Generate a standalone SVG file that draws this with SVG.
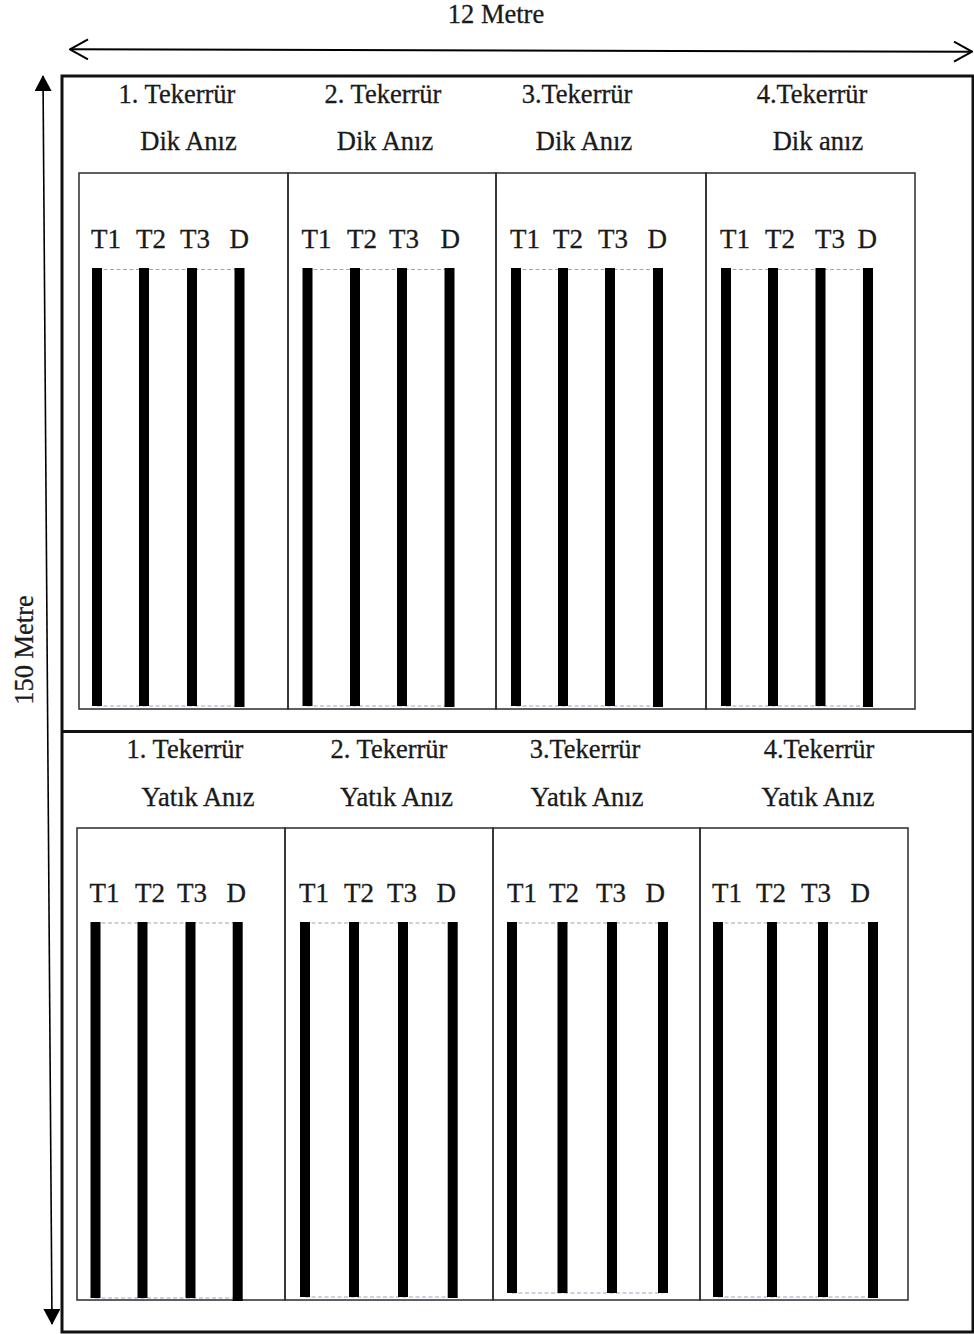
<svg xmlns="http://www.w3.org/2000/svg" width="974" height="1334" viewBox="0 0 974 1334">
<style>
.t{font-family:"Liberation Serif","Times New Roman",serif;font-size:26.5px;fill:#1a1a1a;stroke:#1a1a1a;stroke-width:0.3}
.h{text-anchor:middle}
.l{font-size:27px}
.cell{fill:none;stroke:#2b2b2b;stroke-width:1.5}
.frame{fill:none;stroke:#111;stroke-width:3}
.bar{fill:#000}
.dash{stroke:#9aa6bd;stroke-width:1.2;stroke-dasharray:4 2.5;fill:none}
.dim{stroke:#000;stroke-width:2;fill:none}
</style>
<defs>
<marker id="open" viewBox="0 0 20 22" refX="19" refY="11" markerWidth="20" markerHeight="22" markerUnits="userSpaceOnUse" orient="auto-start-reverse">
<path d="M1,1 L19,11 L1,21" fill="none" stroke="#000" stroke-width="2"/>
</marker>
<marker id="fill" viewBox="0 0 16 17" refX="15" refY="8.5" markerWidth="16" markerHeight="17" markerUnits="userSpaceOnUse" orient="auto-start-reverse">
<path d="M0,0 L16,8.5 L0,17 Z" fill="#000"/>
</marker>
</defs>
<rect width="974" height="1334" fill="#fff"/>

<g id="connectors">
<line class="dim" x1="70" y1="49.3" x2="972" y2="51.7" marker-start="url(#open)" marker-end="url(#open)"/>
<line class="dim" style="stroke-width:1.6" x1="43" y1="76" x2="52" y2="1324" marker-start="url(#fill)" marker-end="url(#fill)"/>
</g>

<text class="t h" x="496" y="23">12 Metre</text>
<text class="t h" transform="translate(33,650) rotate(-90)" x="0" y="0">150 Metre</text>

<g id="field">
<rect class="frame" x="62" y="76" width="911" height="1256"/>
<line class="frame" x1="62" y1="731.5" x2="974" y2="731.5"/>
</g>

<!-- Top row: Dik Anız -->
<g id="top-rep1">
<text class="t h" x="177" y="103">1. Tekerrür</text>
<text class="t h" x="188.5" y="150">Dik Anız</text>
<rect class="cell" x="79" y="173" width="209" height="536"/>
<text class="t l" x="91" y="248">T1</text><text class="t l" x="136" y="248">T2</text><text class="t l" x="180" y="248">T3</text><text class="t l" x="229.5" y="248">D</text>
<line class="dash" x1="97" y1="269.5" x2="239" y2="269.5"/><line class="dash" x1="97" y1="706" x2="239" y2="706"/>
<rect class="bar" x="92" y="268" width="10" height="438"/><rect class="bar" x="139" y="268" width="10" height="438"/><rect class="bar" x="187" y="268" width="10" height="438"/><rect class="bar" x="234.5" y="268" width="10" height="439"/>
</g>
<g id="top-rep2">
<text class="t h" x="383" y="103">2. Tekerrür</text>
<text class="t h" x="385" y="150">Dik Anız</text>
<rect class="cell" x="288" y="173" width="208" height="536"/>
<text class="t l" x="301.5" y="248">T1</text><text class="t l" x="347" y="248">T2</text><text class="t l" x="389" y="248">T3</text><text class="t l" x="440.5" y="248">D</text>
<line class="dash" x1="307" y1="269.5" x2="449" y2="269.5"/><line class="dash" x1="307" y1="706" x2="449" y2="706"/>
<rect class="bar" x="302.5" y="268" width="10" height="438"/><rect class="bar" x="350" y="268" width="10" height="438"/><rect class="bar" x="397" y="268" width="10" height="438"/><rect class="bar" x="444.5" y="268" width="10" height="439"/>
</g>
<g id="top-rep3">
<text class="t h" x="577" y="103">3.Tekerrür</text>
<text class="t h" x="584" y="150">Dik Anız</text>
<rect class="cell" x="496" y="173" width="210" height="536"/>
<text class="t l" x="510" y="248">T1</text><text class="t l" x="553" y="248">T2</text><text class="t l" x="598" y="248">T3</text><text class="t l" x="647.5" y="248">D</text>
<line class="dash" x1="516" y1="269.5" x2="658" y2="269.5"/><line class="dash" x1="516" y1="706" x2="658" y2="706"/>
<rect class="bar" x="511" y="268" width="10" height="438"/><rect class="bar" x="558" y="268" width="10" height="438"/><rect class="bar" x="605" y="268" width="10" height="438"/><rect class="bar" x="653" y="268" width="10" height="439"/>
</g>
<g id="top-rep4">
<text class="t h" x="812" y="103">4.Tekerrür</text>
<text class="t h" x="818" y="150">Dik anız</text>
<rect class="cell" x="706" y="173" width="209" height="536"/>
<text class="t l" x="720" y="248">T1</text><text class="t l" x="765" y="248">T2</text><text class="t l" x="815" y="248">T3</text><text class="t l" x="857.5" y="248">D</text>
<line class="dash" x1="726" y1="269.5" x2="868" y2="269.5"/><line class="dash" x1="726" y1="706" x2="868" y2="706"/>
<rect class="bar" x="721" y="268" width="10" height="438"/><rect class="bar" x="768" y="268" width="10" height="438"/><rect class="bar" x="815.5" y="268" width="10" height="438"/><rect class="bar" x="863" y="268" width="10" height="439"/>
</g>

<!-- Bottom row: Yatık Anız -->
<g id="bottom-rep1">
<text class="t h" x="185" y="758">1. Tekerrür</text>
<text class="t h" x="198" y="806">Yatık Anız</text>
<rect class="cell" x="77" y="828" width="208" height="472"/>
<text class="t l" x="89.5" y="902">T1</text><text class="t l" x="135" y="902">T2</text><text class="t l" x="177" y="902">T3</text><text class="t l" x="226.5" y="902">D</text>
<line class="dash" x1="95" y1="923" x2="238" y2="923"/><line class="dash" x1="95" y1="1298" x2="238" y2="1298"/>
<rect class="bar" x="90.5" y="922" width="10" height="376"/><rect class="bar" x="137.5" y="922" width="10" height="376"/><rect class="bar" x="185.5" y="922" width="10" height="376"/><rect class="bar" x="232.7" y="922" width="10" height="379"/>
</g>
<g id="bottom-rep2">
<text class="t h" x="389" y="758">2. Tekerrür</text>
<text class="t h" x="396.5" y="806">Yatık Anız</text>
<rect class="cell" x="285" y="828" width="208" height="472"/>
<text class="t l" x="299" y="902">T1</text><text class="t l" x="344" y="902">T2</text><text class="t l" x="387" y="902">T3</text><text class="t l" x="436.5" y="902">D</text>
<line class="dash" x1="305" y1="923" x2="452" y2="923"/><line class="dash" x1="305" y1="1297" x2="452" y2="1297"/>
<rect class="bar" x="300" y="922" width="10" height="375"/><rect class="bar" x="349" y="922" width="10" height="375"/><rect class="bar" x="398" y="922" width="10" height="375"/><rect class="bar" x="447.7" y="922" width="10" height="376"/>
</g>
<g id="bottom-rep3">
<text class="t h" x="585" y="758">3.Tekerrür</text>
<text class="t h" x="587" y="806">Yatık Anız</text>
<rect class="cell" x="493" y="828" width="207" height="472"/>
<text class="t l" x="507" y="902">T1</text><text class="t l" x="549" y="902">T2</text><text class="t l" x="596" y="902">T3</text><text class="t l" x="645.5" y="902">D</text>
<line class="dash" x1="512" y1="923" x2="663" y2="923"/><line class="dash" x1="512" y1="1293" x2="663" y2="1293"/>
<rect class="bar" x="507" y="922" width="10" height="371"/><rect class="bar" x="557.5" y="922" width="10" height="371"/><rect class="bar" x="607" y="922" width="10" height="371"/><rect class="bar" x="658" y="922" width="10" height="371"/>
</g>
<g id="bottom-rep4">
<text class="t h" x="819" y="758">4.Tekerrür</text>
<text class="t h" x="818" y="806">Yatık Anız</text>
<rect class="cell" x="700" y="828" width="208" height="472"/>
<text class="t l" x="712" y="902">T1</text><text class="t l" x="756" y="902">T2</text><text class="t l" x="801" y="902">T3</text><text class="t l" x="850.5" y="902">D</text>
<line class="dash" x1="718" y1="923" x2="873" y2="923"/><line class="dash" x1="718" y1="1297" x2="873" y2="1297"/>
<rect class="bar" x="713" y="922" width="10" height="375"/><rect class="bar" x="767" y="922" width="10" height="375"/><rect class="bar" x="818" y="922" width="10" height="375"/><rect class="bar" x="868" y="922" width="10" height="376"/>
</g>
</svg>
